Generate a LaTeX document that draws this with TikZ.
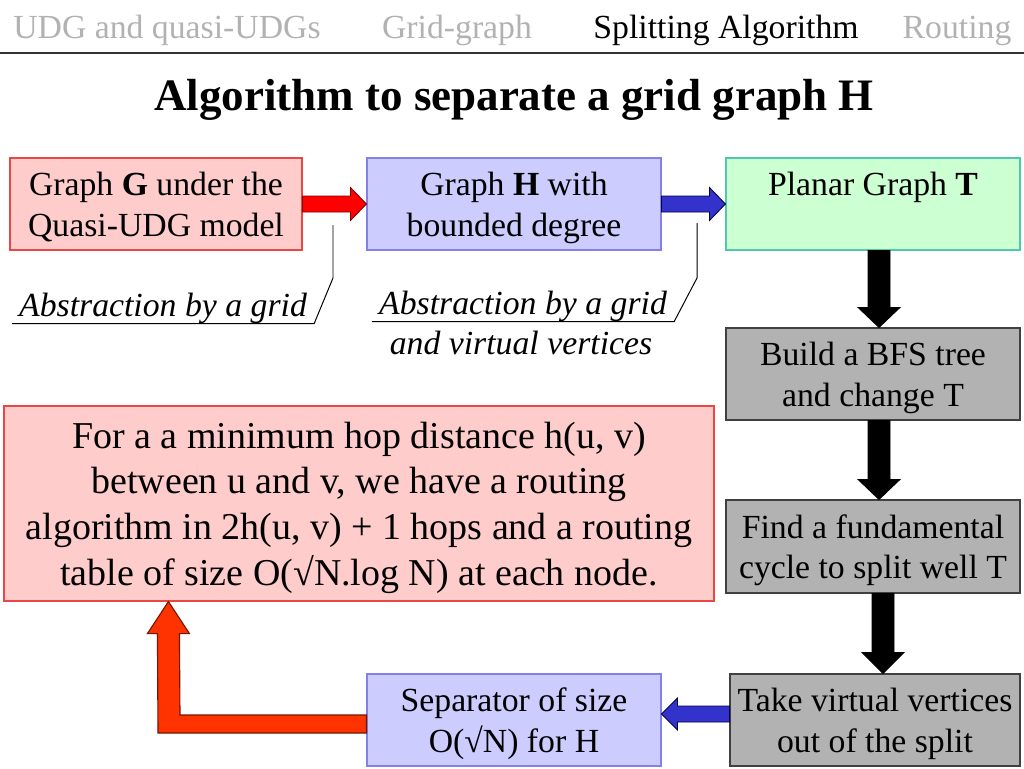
\documentclass[tikz,border=0pt]{standalone}
\usepackage{fontspec}
\setmainfont{Liberation Serif}
\usetikzlibrary{calc}
\definecolor{pinkfill}{RGB}{255,204,204}
\definecolor{pinkline}{RGB}{235,70,70}
\definecolor{lavfill}{RGB}{204,204,255}
\definecolor{lavline}{RGB}{130,130,230}
\definecolor{greenfill}{RGB}{204,255,210}
\definecolor{greenline}{RGB}{80,200,170}
\definecolor{grayfill}{RGB}{178,178,178}
\definecolor{tabgray}{RGB}{178,178,178}
\definecolor{arrblue}{RGB}{51,51,204}
\definecolor{arrorange}{RGB}{255,51,0}
\begin{document}
\begin{tikzpicture}[x=0.25mm,y=-0.25mm,
  boxtext/.style={font=\fontsize{24}{29}\selectfont, align=center, line width=0.8pt, text depth=-2pt},
  pinkbox/.style={boxtext, draw=pinkline, fill=pinkfill},
  lavbox/.style={boxtext, draw=lavline, fill=lavfill},
  greenbox/.style={boxtext, draw=greenline, fill=greenfill},
  graybox/.style={boxtext, draw=black!75, fill=grayfill},
  tab/.style={font=\fontsize{24}{29}\selectfont, anchor=base},
  callout/.style={font=\fontsize{24}{29}\selectfont\itshape, anchor=base, inner xsep=5pt, inner ysep=0pt},
  redarr/.style={fill=red, draw=red!50!black, line width=0.6pt},
  bluearr/.style={fill=arrblue, draw=blue!30!black, line width=0.6pt},
  blackarr/.style={fill=black, draw=black, line width=0.6pt},
  orangearr/.style={fill=arrorange, draw=arrorange!45!black, line width=0.8pt}]
\useasboundingbox (0,0) rectangle (1024,768);

% header
\node[tab, text=tabgray] (tab1) at (167,38) {UDG and quasi-UDGs};
\node[tab, text=tabgray] (tab2) at (457,38) {Grid-graph};
\node[tab] (tab3) at (726,38) {Splitting Algorithm};
\node[tab, text=tabgray] (tab4) at (957,38) {Routing};
\draw[line width=1.4pt, black!80] (0,53) -- (1024,53);

\node[anchor=base, font=\fontsize{32}{38}\selectfont\bfseries] (title) at (514,110) {Algorithm to separate a grid graph H};

% boxes
\node[pinkbox, minimum width=73mm, minimum height=23mm] (g) at (156,204) {Graph \textbf{G} under the\\Quasi-UDG model};
\node[lavbox, minimum width=73.5mm, minimum height=23mm] (h) at (514,204) {Graph \textbf{H} with\\bounded degree};
\node[greenbox, minimum width=73.5mm, minimum height=23mm] (t) at (873,204) {Planar Graph \textbf{T}\\\strut};
\node[graybox, minimum width=73.5mm, minimum height=23mm] (bfs) at (873,374) {Build a BFS tree\\and change T};
\node[graybox, minimum width=73.5mm, minimum height=23.25mm] (cyc) at (873,546.5) {Find a fundamental\\cycle to split well T};
\node[graybox, minimum width=72.5mm, minimum height=23mm] (take) at (875,720) {Take virtual vertices\\out of the split};
\node[lavbox, minimum width=73.5mm, minimum height=23mm] (sep) at (514,720) {Separator of size\\O(√N) for H};
\node[pinkbox, minimum width=177.5mm, minimum height=48.75mm, font=\fontsize{27}{32.5}\selectfont, text depth=-1pt] (big) at (359,503.5) {For a a minimum hop distance h(u, v)\\between u and v, we have a routing\\algorithm in 2h(u, v) + 1 hops and a routing\\table of size O(√N.log N) at each node.};

% callouts
\node[callout] (abs1) at (163,316) {Abstraction by a grid};
\coordinate (k1) at (333,278);
\coordinate (c1) at (333,225);
\draw[line width=0.7pt] (abs1.south west) -- (abs1.south east) -- (k1) -- (c1);
\node[callout] (abs2) at (523,314) {Abstraction by a grid};
\node[callout] (abs3) at (521,354) {and virtual vertices};
\coordinate (k2) at (697,278);
\coordinate (c2) at (697,223);
\draw[line width=0.7pt] (abs2.south west) -- (abs2.south east) -- (k2) -- (c2);

% block arrows
\draw[redarr] ($(g.east)+(0,-8)$) -- ($(h.west)+(-16,-8)$) -- ($(h.west)+(-16,-16.5)$) -- (h.west)
  -- ($(h.west)+(-16,16.5)$) -- ($(h.west)+(-16,8)$) -- ($(g.east)+(0,8)$) -- cycle;
\draw[bluearr] ($(h.east)+(0,-8)$) -- ($(t.west)+(-16,-8)$) -- ($(t.west)+(-16,-16.5)$) -- (t.west)
  -- ($(t.west)+(-16,16.5)$) -- ($(t.west)+(-16,8)$) -- ($(h.east)+(0,8)$) -- cycle;

\draw[blackarr] ($(t.south)+(-5,0)$) -- ($(bfs.north)+(-5,-20)$) -- ($(bfs.north)+(-15,-20)$) -- ($(bfs.north)+(6,0)$)
  -- ($(bfs.north)+(27,-20)$) -- ($(bfs.north)+(17,-20)$) -- ($(t.south)+(17,0)$) -- cycle;
\draw[blackarr] ($(bfs.south)+(-5,0)$) -- ($(cyc.north)+(-5,-20)$) -- ($(cyc.north)+(-15,-20)$) -- ($(cyc.north)+(6,0)$)
  -- ($(cyc.north)+(27,-20)$) -- ($(cyc.north)+(17,-20)$) -- ($(bfs.south)+(17,0)$) -- cycle;
\draw[blackarr] ($(cyc.south)+(-1,0)$) -- ($(take.north)+(-3,-21)$) -- ($(take.north)+(-13,-21)$) -- ($(take.north)+(8,0)$)
  -- ($(take.north)+(29,-21)$) -- ($(take.north)+(19,-21)$) -- ($(cyc.south)+(21,0)$) -- cycle;

\draw[bluearr] ($(take.west)+(0,-14)$) -- ($(sep.east)+(16,-14)$) -- ($(sep.east)+(16,-22)$) -- ($(sep.east)+(0,-6)$)
  -- ($(sep.east)+(16,10)$) -- ($(sep.east)+(16,2)$) -- ($(take.west)+(0,2)$) -- cycle;

\coordinate (tip) at ($(big.south west)+(165,0)$);
\coordinate (bend) at (169,724);
\draw[orangearr] ($(sep.west |- bend)+(0,-9)$) -- ($(bend)+(11,-9)$) -- ($(tip)+(11,32)$) -- ($(tip)+(21,32)$) -- (tip)
  -- ($(tip)+(-21,32)$) -- ($(tip)+(-11,32)$) -- ($(bend)+(-11,9)$) -- ($(sep.west |- bend)+(0,9)$) -- cycle;
\end{tikzpicture}
\end{document}
